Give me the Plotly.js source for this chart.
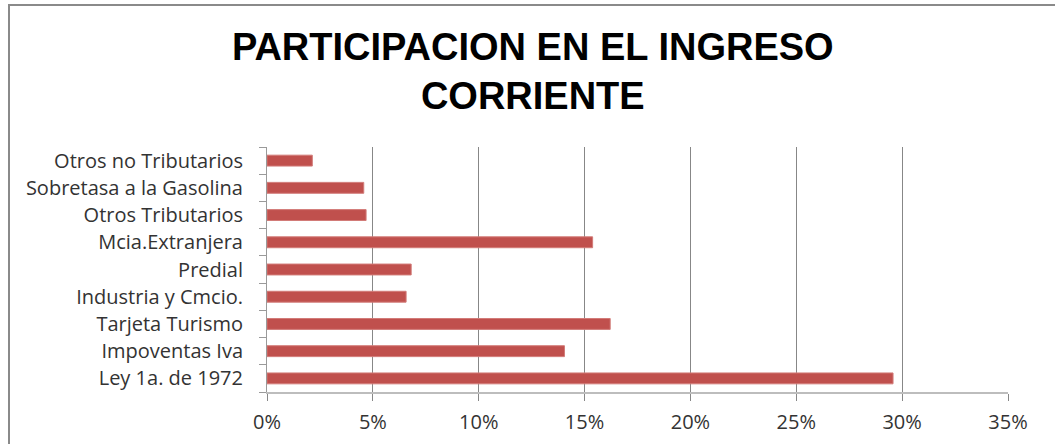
<!DOCTYPE html>
<html>
<head>
<meta charset="utf-8">
<script src="https://cdn.plot.ly/plotly-3.0.1.min.js"></script>
<style>
  html, body { margin: 0; padding: 0; overflow: hidden; background: #fff; }
  #chart { position: absolute; left: 0; top: 0; width: 1055px; height: 444px; }
  #frame { position: absolute; left: 8px; top: 4px; width: 1200px; height: 600px;
           border-top: 2px solid #8a8a8a; border-left: 2px solid #8a8a8a; pointer-events: none; }
</style>
</head>
<body>
<div id="chart"></div>
<div id="frame"></div>
<script>
// Categories listed bottom to top
const categories = [
  "Ley 1a. de 1972",
  "Impoventas Iva",
  "Tarjeta Turismo",
  "Industria y Cmcio.",
  "Predial",
  "Mcia.Extranjera",
  "Otros Tributarios",
  "Sobretasa a la Gasolina",
  "Otros no Tributarios"
];
const shares = [0.2957, 0.1405, 0.1621, 0.0657, 0.0681, 0.1538, 0.0468, 0.0457, 0.0214];
const titleText = "PARTICIPACION EN EL INGRESO<br>CORRIENTE";

const trace = {
  type: "bar",
  orientation: "h",
  y: categories,
  x: shares,
  width: 0.4,
  marker: { color: "#C0504D", line: { color: "#D27B78", width: 1 } },
  hoverinfo: "x+y"
};

const labelFont = { family: "Open Sans, Liberation Sans, sans-serif", size: 20, color: "#333333" };

const layout = {
  width: 1055,
  height: 444,
  paper_bgcolor: "#ffffff",
  plot_bgcolor: "#ffffff",
  margin: { l: 267, r: 47, t: 147, b: 52 },
  showlegend: false,
  title: {
    text: titleText,
    font: { family: "Liberation Sans, Arial, sans-serif", size: 38, color: "#000000", weight: "bold" },
    xref: "container", x: 0.505, xanchor: "center",
    yref: "container", y: 1 - 60 / 444, yanchor: "top"
  },
  xaxis: {
    range: [0, 0.35],
    dtick: 0.05,
    tick0: 0,
    tickformat: ".0%",
    showgrid: true,
    gridcolor: "#878787",
    gridwidth: 1,
    zeroline: false,
    showline: true,
    linecolor: "#bdbdbd",
    linewidth: 2,
    ticks: "outside",
    ticklen: 7,
    tickcolor: "#878787",
    ticklabelstandoff: 4,
    tickfont: labelFont,
    fixedrange: true
  },
  yaxis: {
    type: "category",
    categoryorder: "array",
    categoryarray: categories,
    showgrid: false,
    zeroline: false,
    showline: true,
    linecolor: "#9a9a9a",
    linewidth: 1,
    ticks: "outside",
    tickson: "boundaries",
    ticklen: 7,
    tickcolor: "#9a9a9a",
    ticklabelstandoff: 19,
    tickfont: labelFont,
    fixedrange: true
  }
};

Plotly.newPlot("chart", [trace], layout, { displayModeBar: false, staticPlot: true });
</script>
</body>
</html>
